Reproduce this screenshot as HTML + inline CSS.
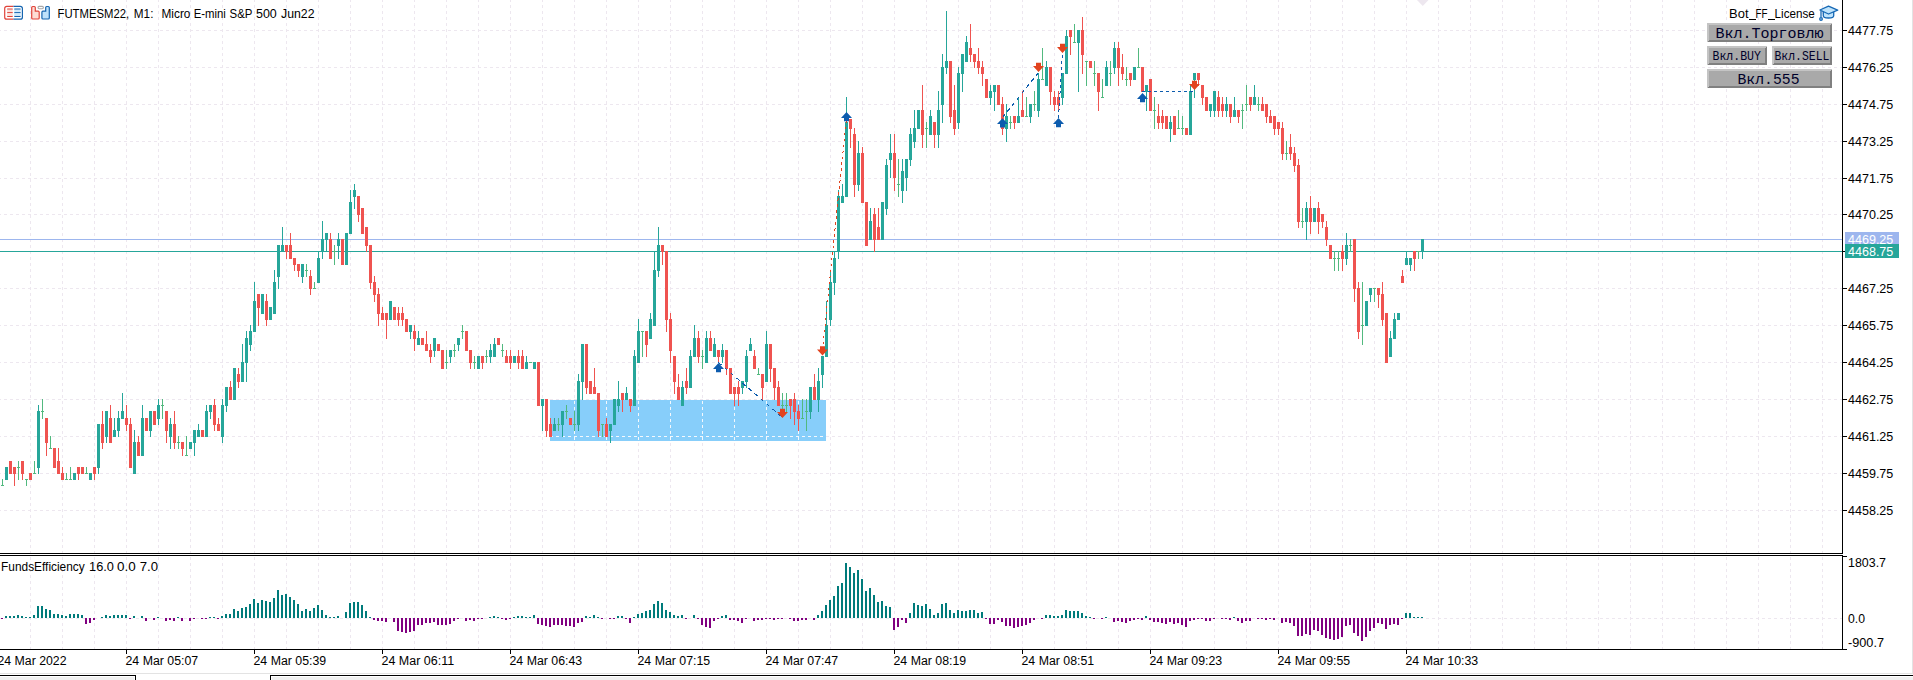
<!DOCTYPE html><html><head><meta charset="utf-8"><title>chart</title><style>html,body{margin:0;padding:0;background:#fff;overflow:hidden}svg{display:block}text{font-family:"Liberation Sans",sans-serif;font-size:12.5px;fill:#000}.m{font-family:"Liberation Mono",monospace;fill:#00002a}</style></head><body>
<svg width="1913" height="680" viewBox="0 0 1913 680">
<rect width="1913" height="680" fill="#fff"/>
<g shape-rendering="crispEdges">
<path d="M30.5 -1V553M30.5 557V649M62.5 -1V553M62.5 557V649M94.5 -1V553M94.5 557V649M126.5 -1V553M126.5 557V649M158.5 -1V553M158.5 557V649M190.5 -1V553M190.5 557V649M222.5 -1V553M222.5 557V649M254.5 -1V553M254.5 557V649M286.5 -1V553M286.5 557V649M318.5 -1V553M318.5 557V649M350.5 -1V553M350.5 557V649M382.5 -1V553M382.5 557V649M414.5 -1V553M414.5 557V649M446.5 -1V553M446.5 557V649M478.5 -1V553M478.5 557V649M510.5 -1V553M510.5 557V649M542.5 -1V553M542.5 557V649M574.5 -1V553M574.5 557V649M606.5 -1V553M606.5 557V649M638.5 -1V553M638.5 557V649M670.5 -1V553M670.5 557V649M702.5 -1V553M702.5 557V649M734.5 -1V553M734.5 557V649M766.5 -1V553M766.5 557V649M798.5 -1V553M798.5 557V649M830.5 -1V553M830.5 557V649M862.5 -1V553M862.5 557V649M894.5 -1V553M894.5 557V649M926.5 -1V553M926.5 557V649M958.5 -1V553M958.5 557V649M990.5 -1V553M990.5 557V649M1022.5 -1V553M1022.5 557V649M1054.5 -1V553M1054.5 557V649M1086.5 -1V553M1086.5 557V649M1118.5 -1V553M1118.5 557V649M1150.5 -1V553M1150.5 557V649M1182.5 -1V553M1182.5 557V649M1214.5 -1V553M1214.5 557V649M1246.5 -1V553M1246.5 557V649M1278.5 -1V553M1278.5 557V649M1310.5 -1V553M1310.5 557V649M1342.5 -1V553M1342.5 557V649M1374.5 -1V553M1374.5 557V649M1406.5 -1V553M1406.5 557V649M1438.5 -1V553M1438.5 557V649M1470.5 -1V553M1470.5 557V649M1502.5 -1V553M1502.5 557V649M1534.5 -1V553M1534.5 557V649M1566.5 -1V553M1566.5 557V649M1598.5 -1V553M1598.5 557V649M1630.5 -1V553M1630.5 557V649M1662.5 -1V553M1662.5 557V649M1694.5 -1V553M1694.5 557V649M1726.5 -1V553M1726.5 557V649M1758.5 -1V553M1758.5 557V649M1790.5 -1V553M1790.5 557V649M1822.5 -1V553M1822.5 557V649M-2 30.5H1842M-2 67.5H1842M-2 104.5H1842M-2 141.5H1842M-2 178.5H1842M-2 214.5H1842M-2 251.5H1842M-2 288.5H1842M-2 325.5H1842M-2 362.5H1842M-2 399.5H1842M-2 436.5H1842M-2 473.5H1842M-2 510.5H1842M-2 618.5H1842" stroke="#ede7ef" stroke-width="1" stroke-dasharray="3 3" fill="none"/>
<path d="M1417 0h11.5l-5.75 6z" fill="#ede7ef" shape-rendering="auto"/>
<rect x="550" y="400" width="276" height="41" fill="#87cefa"/>
<path d="M574.5 401V441M606.5 401V441M638.5 401V441M670.5 401V441M702.5 401V441M734.5 401V441M766.5 401V441M798.5 401V441M550 436.5H826" stroke="#f3f8fd" stroke-width="1" stroke-dasharray="3 3" fill="none"/>
<rect x="0" y="239" width="1842" height="1" fill="#9db6ee"/>
<rect x="0" y="251" width="1842" height="1" fill="#26a69a"/>
<path d="M6 467h1V480h-1zM5 467h3V480h-3zM38 405h1V474h-1zM37 411h3V468h-3zM74 473h1V480h-1zM73 473h3V480h-3zM90 473h1V480h-1zM89 473h3V480h-3zM98 424h1V474h-1zM97 424h3V468h-3zM106 411h1V443h-1zM105 411h3V437h-3zM114 418h1V437h-1zM113 430h3V437h-3zM118 411h1V437h-1zM117 418h3V431h-3zM122 393h1V419h-1zM121 411h3V419h-3zM134 430h1V474h-1zM133 442h3V474h-3zM142 405h1V456h-1zM141 418h3V456h-3zM150 411h1V437h-1zM149 411h3V431h-3zM158 399h1V425h-1zM157 405h3V419h-3zM170 418h1V449h-1zM169 424h3V437h-3zM190 442h1V449h-1zM189 442h3V449h-3zM194 430h1V456h-1zM193 430h3V443h-3zM198 424h1V437h-1zM197 430h3V437h-3zM206 405h1V437h-1zM205 411h3V437h-3zM210 405h1V419h-1zM209 405h3V412h-3zM222 399h1V443h-1zM221 405h3V437h-3zM226 387h1V412h-1zM225 387h3V406h-3zM234 368h1V400h-1zM233 368h3V400h-3zM242 344h1V382h-1zM241 362h3V382h-3zM246 331h1V382h-1zM245 338h3V363h-3zM250 325h1V351h-1zM249 331h3V345h-3zM254 282h1V332h-1zM253 301h3V332h-3zM262 294h1V314h-1zM261 294h3V314h-3zM270 307h1V320h-1zM269 307h3V320h-3zM274 270h1V314h-1zM273 282h3V314h-3zM278 245h1V289h-1zM277 245h3V277h-3zM282 227h1V252h-1zM281 245h3V252h-3zM302 264h1V283h-1zM301 264h3V277h-3zM318 251h1V283h-1zM317 258h3V283h-3zM322 221h1V259h-1zM321 239h3V252h-3zM326 233h1V252h-1zM325 233h3V240h-3zM338 233h1V259h-1zM337 239h3V246h-3zM346 233h1V265h-1zM345 233h3V265h-3zM350 190h1V234h-1zM349 202h3V234h-3zM354 184h1V209h-1zM353 190h3V197h-3zM390 301h1V320h-1zM389 301h3V320h-3zM410 325h1V339h-1zM409 325h3V332h-3zM418 331h1V345h-1zM417 338h3V345h-3zM434 338h1V357h-1zM433 338h3V351h-3zM450 350h1V363h-1zM449 350h3V357h-3zM458 338h1V351h-1zM457 338h3V345h-3zM478 356h1V369h-1zM477 356h3V369h-3zM490 344h1V363h-1zM489 350h3V357h-3zM494 338h1V357h-1zM493 344h3V357h-3zM514 356h1V363h-1zM513 356h3V363h-3zM526 356h1V369h-1zM525 362h3V369h-3zM534 362h1V369h-1zM533 362h3V369h-3zM542 399h1V431h-1zM541 399h3V406h-3zM554 418h1V431h-1zM553 424h3V431h-3zM562 411h1V437h-1zM561 411h3V425h-3zM578 374h1V431h-1zM577 381h3V425h-3zM582 344h1V400h-1zM581 344h3V382h-3zM610 424h1V443h-1zM609 424h3V431h-3zM614 399h1V425h-1zM613 399h3V425h-3zM618 381h1V412h-1zM617 399h3V406h-3zM626 387h1V400h-1zM625 393h3V400h-3zM634 350h1V406h-1zM633 356h3V406h-3zM638 319h1V363h-1zM637 331h3V363h-3zM650 313h1V339h-1zM649 319h3V339h-3zM654 251h1V326h-1zM653 270h3V326h-3zM658 227h1V277h-1zM657 245h3V271h-3zM682 381h1V406h-1zM681 387h3V406h-3zM690 350h1V388h-1zM689 356h3V388h-3zM694 325h1V357h-1zM693 338h3V357h-3zM706 331h1V363h-1zM705 338h3V363h-3zM714 338h1V357h-1zM713 344h3V357h-3zM722 344h1V363h-1zM721 350h3V357h-3zM742 381h1V394h-1zM741 381h3V388h-3zM746 350h1V388h-1zM745 356h3V382h-3zM750 338h1V351h-1zM749 344h3V351h-3zM766 331h1V382h-1zM765 344h3V382h-3zM810 387h1V419h-1zM809 387h3V412h-3zM818 368h1V412h-1zM817 381h3V400h-3zM822 356h1V388h-1zM821 356h3V375h-3zM826 301h1V357h-1zM825 325h3V357h-3zM830 270h1V326h-1zM829 282h3V320h-3zM834 251h1V295h-1zM833 258h3V283h-3zM838 190h1V259h-1zM837 196h3V252h-3zM842 184h1V203h-1zM841 196h3V203h-3zM846 97h1V197h-1zM845 122h3V197h-3zM858 141h1V191h-1zM857 153h3V185h-3zM870 208h1V240h-1zM869 221h3V240h-3zM882 202h1V240h-1zM881 202h3V240h-3zM886 159h1V215h-1zM885 165h3V209h-3zM890 134h1V178h-1zM889 153h3V160h-3zM902 159h1V203h-1zM901 171h3V191h-3zM906 159h1V191h-1zM905 159h3V178h-3zM910 128h1V166h-1zM909 134h3V160h-3zM914 110h1V148h-1zM913 128h3V142h-3zM918 110h1V129h-1zM917 110h3V129h-3zM930 110h1V135h-1zM929 116h3V135h-3zM938 91h1V148h-1zM937 110h3V135h-3zM942 54h1V123h-1zM941 67h3V105h-3zM946 11h1V74h-1zM945 61h3V68h-3zM958 67h1V129h-1zM957 73h3V123h-3zM962 54h1V92h-1zM961 54h3V74h-3zM966 36h1V62h-1zM965 42h3V62h-3zM990 85h1V105h-1zM989 91h3V98h-3zM994 85h1V111h-1zM993 85h3V92h-3zM1006 104h1V142h-1zM1005 116h3V129h-3zM1018 97h1V123h-1zM1017 116h3V123h-3zM1030 104h1V123h-1zM1029 104h3V117h-3zM1038 73h1V117h-1zM1037 79h3V111h-3zM1046 61h1V86h-1zM1045 67h3V86h-3zM1062 73h1V105h-1zM1061 73h3V98h-3zM1066 30h1V74h-1zM1065 36h3V74h-3zM1078 30h1V92h-1zM1077 30h3V43h-3zM1106 61h1V86h-1zM1105 67h3V86h-3zM1114 42h1V74h-1zM1113 48h3V68h-3zM1134 67h1V80h-1zM1133 67h3V80h-3zM1146 85h1V111h-1zM1145 85h3V92h-3zM1170 116h1V142h-1zM1169 122h3V129h-3zM1190 85h1V135h-1zM1189 91h3V135h-3zM1194 73h1V98h-1zM1193 73h3V80h-3zM1210 104h1V117h-1zM1209 104h3V111h-3zM1214 91h1V117h-1zM1213 91h3V111h-3zM1226 97h1V117h-1zM1225 104h3V111h-3zM1234 97h1V117h-1zM1233 110h3V117h-3zM1254 85h1V105h-1zM1253 97h3V105h-3zM1306 202h1V240h-1zM1305 208h3V222h-3zM1314 208h1V222h-1zM1313 208h3V222h-3zM1346 233h1V265h-1zM1345 245h3V259h-3zM1366 301h1V326h-1zM1365 301h3V326h-3zM1370 288h1V302h-1zM1369 288h3V295h-3zM1390 331h1V357h-1zM1389 338h3V357h-3zM1394 313h1V339h-1zM1393 319h3V339h-3zM1398 313h1V320h-1zM1397 313h3V320h-3zM1406 251h1V265h-1zM1405 258h3V265h-3zM1410 258h1V271h-1zM1409 258h3V265h-3zM1422 239h1V259h-1zM1421 239h3V252h-3z" fill="#26a69a"/>
<path d="M10 461h1V474h-1zM9 461h3V474h-3zM14 467h1V486h-1zM13 467h3V474h-3zM22 461h1V480h-1zM21 461h3V474h-3zM30 473h1V480h-1zM29 473h3V480h-3zM46 418h1V456h-1zM45 418h3V443h-3zM54 448h1V468h-1zM53 448h3V468h-3zM58 448h1V474h-1zM57 461h3V474h-3zM62 467h1V480h-1zM61 473h3V480h-3zM78 467h1V480h-1zM77 467h3V474h-3zM82 467h1V474h-1zM81 467h3V474h-3zM94 467h1V480h-1zM93 467h3V474h-3zM102 411h1V449h-1zM101 424h3V443h-3zM110 405h1V443h-1zM109 418h3V443h-3zM126 405h1V431h-1zM125 418h3V425h-3zM130 418h1V468h-1zM129 424h3V468h-3zM138 436h1V456h-1zM137 442h3V456h-3zM146 418h1V431h-1zM145 418h3V431h-3zM154 411h1V425h-1zM153 411h3V425h-3zM166 411h1V443h-1zM165 411h3V431h-3zM174 411h1V449h-1zM173 424h3V443h-3zM182 442h1V456h-1zM181 442h3V449h-3zM202 430h1V437h-1zM201 430h3V437h-3zM214 399h1V431h-1zM213 405h3V425h-3zM218 418h1V431h-1zM217 424h3V431h-3zM230 381h1V400h-1zM229 387h3V400h-3zM238 368h1V388h-1zM237 374h3V382h-3zM258 294h1V326h-1zM257 294h3V308h-3zM266 294h1V326h-1zM265 301h3V320h-3zM286 245h1V259h-1zM285 245h3V252h-3zM290 233h1V259h-1zM289 245h3V259h-3zM294 258h1V271h-1zM293 258h3V265h-3zM298 264h1V277h-1zM297 264h3V271h-3zM310 270h1V295h-1zM309 276h3V289h-3zM330 233h1V259h-1zM329 239h3V259h-3zM342 239h1V265h-1zM341 239h3V265h-3zM358 196h1V222h-1zM357 196h3V215h-3zM362 208h1V234h-1zM361 208h3V234h-3zM366 227h1V252h-1zM365 227h3V246h-3zM370 245h1V289h-1zM369 245h3V283h-3zM374 276h1V302h-1zM373 282h3V295h-3zM378 288h1V326h-1zM377 294h3V314h-3zM382 307h1V320h-1zM381 313h3V320h-3zM386 313h1V339h-1zM385 313h3V320h-3zM394 307h1V320h-1zM393 307h3V320h-3zM398 307h1V326h-1zM397 313h3V320h-3zM402 307h1V326h-1zM401 313h3V320h-3zM406 319h1V332h-1zM405 319h3V332h-3zM414 325h1V351h-1zM413 331h3V339h-3zM422 338h1V345h-1zM421 338h3V345h-3zM426 331h1V351h-1zM425 344h3V351h-3zM430 344h1V363h-1zM429 350h3V357h-3zM438 344h1V351h-1zM437 344h3V351h-3zM442 350h1V369h-1zM441 350h3V369h-3zM466 331h1V351h-1zM465 331h3V351h-3zM470 350h1V369h-1zM469 350h3V363h-3zM482 356h1V369h-1zM481 356h3V363h-3zM498 338h1V345h-1zM497 338h3V345h-3zM506 350h1V363h-1zM505 356h3V363h-3zM510 350h1V369h-1zM509 356h3V363h-3zM518 350h1V369h-1zM517 356h3V363h-3zM522 350h1V369h-1zM521 356h3V369h-3zM538 362h1V406h-1zM537 362h3V406h-3zM546 399h1V437h-1zM545 399h3V431h-3zM550 418h1V437h-1zM549 424h3V437h-3zM570 418h1V425h-1zM569 418h3V425h-3zM586 344h1V394h-1zM585 344h3V388h-3zM590 381h1V394h-1zM589 381h3V394h-3zM594 368h1V394h-1zM593 387h3V394h-3zM598 393h1V437h-1zM597 393h3V431h-3zM606 418h1V437h-1zM605 424h3V437h-3zM622 393h1V412h-1zM621 393h3V400h-3zM630 399h1V412h-1zM629 399h3V406h-3zM646 331h1V357h-1zM645 331h3V345h-3zM662 245h1V265h-1zM661 245h3V252h-3zM666 251h1V332h-1zM665 251h3V320h-3zM670 313h1V363h-1zM669 319h3V351h-3zM674 356h1V394h-1zM673 356h3V382h-3zM678 374h1V400h-1zM677 387h3V400h-3zM686 368h1V394h-1zM685 381h3V388h-3zM698 331h1V363h-1zM697 338h3V357h-3zM710 331h1V351h-1zM709 338h3V351h-3zM718 350h1V363h-1zM717 350h3V357h-3zM726 350h1V375h-1zM725 350h3V369h-3zM730 368h1V394h-1zM729 368h3V394h-3zM734 387h1V406h-1zM733 387h3V394h-3zM738 381h1V406h-1zM737 387h3V394h-3zM754 350h1V369h-1zM753 356h3V369h-3zM762 374h1V400h-1zM761 374h3V388h-3zM770 344h1V382h-1zM769 344h3V369h-3zM774 368h1V400h-1zM773 368h3V388h-3zM778 381h1V406h-1zM777 387h3V406h-3zM790 399h1V419h-1zM789 399h3V406h-3zM794 393h1V425h-1zM793 399h3V412h-3zM798 405h1V431h-1zM797 411h3V419h-3zM814 374h1V400h-1zM813 387h3V400h-3zM850 119h1V148h-1zM849 119h3V129h-3zM854 128h1V197h-1zM853 134h3V185h-3zM862 147h1V203h-1zM861 153h3V203h-3zM866 202h1V246h-1zM865 202h3V246h-3zM874 208h1V252h-1zM873 214h3V240h-3zM878 208h1V240h-1zM877 227h3V240h-3zM894 134h1V191h-1zM893 153h3V178h-3zM922 85h1V148h-1zM921 110h3V135h-3zM934 122h1V148h-1zM933 122h3V135h-3zM950 61h1V123h-1zM949 61h3V117h-3zM954 85h1V135h-1zM953 110h3V129h-3zM970 24h1V62h-1zM969 48h3V55h-3zM974 54h1V68h-1zM973 54h3V62h-3zM978 48h1V74h-1zM977 61h3V68h-3zM982 61h1V86h-1zM981 67h3V74h-3zM986 79h1V98h-1zM985 79h3V98h-3zM998 85h1V105h-1zM997 85h3V105h-3zM1002 97h1V135h-1zM1001 104h3V129h-3zM1014 116h1V129h-1zM1013 116h3V123h-3zM1022 91h1V117h-1zM1021 110h3V117h-3zM1050 67h1V105h-1zM1049 67h3V92h-3zM1054 91h1V111h-1zM1053 97h3V105h-3zM1058 91h1V111h-1zM1057 97h3V105h-3zM1070 30h1V55h-1zM1069 30h3V37h-3zM1082 17h1V74h-1zM1081 30h3V55h-3zM1090 61h1V68h-1zM1089 61h3V68h-3zM1098 73h1V111h-1zM1097 73h3V92h-3zM1118 42h1V86h-1zM1117 48h3V68h-3zM1122 54h1V80h-1zM1121 67h3V74h-3zM1130 73h1V86h-1zM1129 73h3V80h-3zM1142 67h1V92h-1zM1141 67h3V92h-3zM1150 79h1V111h-1zM1149 79h3V111h-3zM1158 104h1V129h-1zM1157 116h3V123h-3zM1162 110h1V129h-1zM1161 116h3V123h-3zM1166 116h1V129h-1zM1165 116h3V129h-3zM1174 116h1V135h-1zM1173 116h3V135h-3zM1186 128h1V135h-1zM1185 128h3V135h-3zM1198 73h1V86h-1zM1197 73h3V80h-3zM1202 85h1V105h-1zM1201 85h3V98h-3zM1206 97h1V111h-1zM1205 97h3V111h-3zM1218 91h1V117h-1zM1217 97h3V111h-3zM1222 97h1V117h-1zM1221 104h3V111h-3zM1230 104h1V123h-1zM1229 104h3V117h-3zM1238 110h1V123h-1zM1237 110h3V117h-3zM1250 97h1V111h-1zM1249 97h3V105h-3zM1262 97h1V111h-1zM1261 104h3V111h-3zM1266 104h1V123h-1zM1265 104h3V117h-3zM1270 110h1V123h-1zM1269 116h3V123h-3zM1274 116h1V135h-1zM1273 116h3V129h-3zM1278 122h1V135h-1zM1277 122h3V129h-3zM1282 122h1V160h-1zM1281 128h3V154h-3zM1290 134h1V160h-1zM1289 147h3V154h-3zM1294 147h1V172h-1zM1293 153h3V166h-3zM1298 159h1V228h-1zM1297 165h3V222h-3zM1310 196h1V234h-1zM1309 208h3V222h-3zM1318 202h1V234h-1zM1317 208h3V222h-3zM1322 214h1V228h-1zM1321 214h3V222h-3zM1326 221h1V246h-1zM1325 227h3V240h-3zM1330 245h1V259h-1zM1329 245h3V259h-3zM1342 245h1V271h-1zM1341 251h3V259h-3zM1354 239h1V302h-1zM1353 239h3V289h-3zM1358 282h1V339h-1zM1357 288h3V332h-3zM1378 288h1V308h-1zM1377 288h3V295h-3zM1382 282h1V326h-1zM1381 294h3V320h-3zM1386 313h1V363h-1zM1385 313h3V363h-3zM1402 270h1V283h-1zM1401 276h3V283h-3zM1414 251h1V271h-1zM1413 251h3V259h-3z" fill="#ef5350"/>
<path d="M2 479h1V486h-1zM1 485h3v1h-3zM18 461h1V480h-1zM17 467h3v1h-3zM26 479h1V486h-1zM25 479h3v1h-3zM34 461h1V474h-1zM33 473h3v1h-3zM42 399h1V419h-1zM41 411h3v1h-3zM50 436h1V449h-1zM49 448h3v1h-3zM66 473h1V480h-1zM65 479h3v1h-3zM70 467h1V480h-1zM69 479h3v1h-3zM86 467h1V474h-1zM85 473h3v1h-3zM162 399h1V419h-1zM161 405h3v1h-3zM178 436h1V449h-1zM177 442h3v1h-3zM186 436h1V456h-1zM185 455h3v1h-3zM306 264h1V277h-1zM305 270h3v1h-3zM314 282h1V289h-1zM313 288h3v1h-3zM334 245h1V265h-1zM333 251h3v1h-3zM446 350h1V369h-1zM445 362h3v1h-3zM454 344h1V357h-1zM453 350h3v1h-3zM462 325h1V339h-1zM461 331h3v1h-3zM474 356h1V369h-1zM473 362h3v1h-3zM486 350h1V363h-1zM485 356h3v1h-3zM502 344h1V357h-1zM501 350h3v1h-3zM530 362h1V363h-1zM529 362h3v1h-3zM558 418h1V431h-1zM557 424h3v1h-3zM566 405h1V419h-1zM565 411h3v1h-3zM574 411h1V431h-1zM573 424h3v1h-3zM602 424h1V437h-1zM601 424h3v1h-3zM642 331h1V357h-1zM641 331h3v1h-3zM702 350h1V369h-1zM701 356h3v1h-3zM758 368h1V375h-1zM757 374h3v1h-3zM782 393h1V412h-1zM781 405h3v1h-3zM786 393h1V412h-1zM785 405h3v1h-3zM802 399h1V419h-1zM801 418h3v1h-3zM806 399h1V431h-1zM805 411h3v1h-3zM898 159h1V197h-1zM897 184h3v1h-3zM926 122h1V148h-1zM925 128h3v1h-3zM1010 116h1V129h-1zM1009 122h3v1h-3zM1026 97h1V117h-1zM1025 116h3v1h-3zM1034 91h1V111h-1zM1033 104h3v1h-3zM1042 48h1V80h-1zM1041 79h3v1h-3zM1074 24h1V43h-1zM1073 42h3v1h-3zM1086 61h1V86h-1zM1085 61h3v1h-3zM1094 61h1V86h-1zM1093 73h3v1h-3zM1102 79h1V98h-1zM1101 97h3v1h-3zM1110 61h1V86h-1zM1109 73h3v1h-3zM1126 67h1V86h-1zM1125 79h3v1h-3zM1138 48h1V68h-1zM1137 67h3v1h-3zM1154 97h1V129h-1zM1153 110h3v1h-3zM1178 110h1V129h-1zM1177 128h3v1h-3zM1182 116h1V135h-1zM1181 128h3v1h-3zM1242 104h1V129h-1zM1241 110h3v1h-3zM1246 85h1V111h-1zM1245 104h3v1h-3zM1258 97h1V111h-1zM1257 104h3v1h-3zM1286 141h1V160h-1zM1285 153h3v1h-3zM1302 208h1V228h-1zM1301 221h3v1h-3zM1334 251h1V271h-1zM1333 258h3v1h-3zM1338 251h1V271h-1zM1337 258h3v1h-3zM1350 239h1V252h-1zM1349 245h3v1h-3zM1362 282h1V345h-1zM1361 325h3v1h-3zM1374 288h1V302h-1zM1373 288h3v1h-3zM1418 251h1V259h-1zM1417 251h3v1h-3z" fill="#52b97f"/>
<path d="M5 616h2v2h-2zM9 616h2v2h-2zM13 616h2v2h-2zM17 615h2v3h-2zM21 616h2v2h-2zM25 617h2v1h-2zM29 617h2v1h-2zM33 615h2v3h-2zM37 606h2v12h-2zM41 606h2v12h-2zM45 609h2v9h-2zM49 610h2v8h-2zM53 614h2v4h-2zM57 614h2v4h-2zM61 615h2v3h-2zM65 616h2v2h-2zM69 614h2v4h-2zM73 614h2v4h-2zM77 614h2v4h-2zM81 615h2v3h-2zM101 617h2v1h-2zM105 615h2v3h-2zM109 616h2v2h-2zM113 615h2v3h-2zM117 615h2v3h-2zM121 615h2v3h-2zM125 615h2v3h-2zM133 616h2v2h-2zM141 616h2v2h-2zM157 617h2v1h-2zM177 617h2v1h-2zM209 617h2v1h-2zM213 617h2v1h-2zM221 616h2v2h-2zM225 614h2v4h-2zM229 614h2v4h-2zM233 609h2v9h-2zM237 611h2v7h-2zM241 608h2v10h-2zM245 607h2v11h-2zM249 604h2v14h-2zM253 599h2v19h-2zM257 603h2v15h-2zM261 600h2v18h-2zM265 601h2v17h-2zM269 602h2v16h-2zM273 598h2v20h-2zM277 590h2v28h-2zM281 595h2v23h-2zM285 594h2v24h-2zM289 597h2v21h-2zM293 600h2v18h-2zM297 604h2v14h-2zM301 611h2v7h-2zM305 609h2v9h-2zM309 611h2v7h-2zM313 608h2v10h-2zM317 605h2v13h-2zM321 610h2v8h-2zM325 615h2v3h-2zM329 617h2v1h-2zM333 617h2v1h-2zM337 616h2v2h-2zM345 612h2v6h-2zM349 603h2v15h-2zM353 602h2v16h-2zM357 602h2v16h-2zM361 605h2v13h-2zM365 611h2v7h-2zM369 617h2v1h-2zM489 617h2v1h-2zM493 616h2v2h-2zM497 617h2v1h-2zM513 617h2v1h-2zM517 616h2v2h-2zM521 616h2v2h-2zM525 617h2v1h-2zM529 617h2v1h-2zM533 615h2v3h-2zM585 616h2v2h-2zM589 617h2v1h-2zM593 615h2v3h-2zM597 617h2v1h-2zM617 616h2v2h-2zM621 616h2v2h-2zM633 617h2v1h-2zM637 614h2v4h-2zM641 613h2v5h-2zM645 611h2v7h-2zM649 610h2v8h-2zM653 604h2v14h-2zM657 601h2v17h-2zM661 603h2v15h-2zM665 610h2v8h-2zM669 612h2v6h-2zM673 615h2v3h-2zM677 616h2v2h-2zM681 615h2v3h-2zM693 615h2v3h-2zM721 616h2v2h-2zM725 615h2v3h-2zM817 615h2v3h-2zM821 611h2v7h-2zM825 605h2v13h-2zM829 600h2v18h-2zM833 596h2v22h-2zM837 586h2v32h-2zM841 583h2v35h-2zM845 563h2v55h-2zM849 567h2v51h-2zM853 573h2v45h-2zM857 570h2v48h-2zM861 579h2v39h-2zM865 591h2v27h-2zM869 588h2v30h-2zM873 595h2v23h-2zM877 602h2v16h-2zM881 601h2v17h-2zM885 606h2v12h-2zM889 607h2v11h-2zM909 613h2v5h-2zM913 603h2v15h-2zM917 605h2v13h-2zM921 606h2v12h-2zM925 604h2v14h-2zM929 609h2v9h-2zM933 615h2v3h-2zM937 613h2v5h-2zM941 604h2v14h-2zM945 603h2v15h-2zM949 610h2v8h-2zM953 613h2v5h-2zM957 610h2v8h-2zM961 611h2v7h-2zM965 611h2v7h-2zM969 610h2v8h-2zM973 610h2v8h-2zM977 613h2v5h-2zM981 612h2v6h-2zM1045 615h2v3h-2zM1049 615h2v3h-2zM1053 616h2v2h-2zM1057 616h2v2h-2zM1061 615h2v3h-2zM1065 610h2v8h-2zM1069 611h2v7h-2zM1073 611h2v7h-2zM1077 611h2v7h-2zM1081 613h2v5h-2zM1085 616h2v2h-2zM1089 617h2v1h-2zM1105 617h2v1h-2zM1145 616h2v2h-2zM1233 617h2v1h-2zM1405 613h2v5h-2zM1409 613h2v5h-2zM1413 617h2v1h-2zM1417 617h2v1h-2zM1421 617h2v1h-2z" fill="#007b7b"/>
<path d="M1 618h2v1h-2zM85 618h2v6h-2zM89 618h2v5h-2zM93 618h2v2h-2zM129 618h2v1h-2zM145 618h2v3h-2zM153 618h2v2h-2zM165 618h2v3h-2zM169 618h2v2h-2zM173 618h2v3h-2zM181 618h2v3h-2zM189 618h2v3h-2zM193 618h2v1h-2zM201 618h2v1h-2zM205 618h2v1h-2zM217 618h2v1h-2zM373 618h2v2h-2zM377 618h2v3h-2zM381 618h2v3h-2zM385 618h2v4h-2zM393 618h2v4h-2zM397 618h2v13h-2zM401 618h2v14h-2zM405 618h2v15h-2zM409 618h2v14h-2zM413 618h2v13h-2zM417 618h2v7h-2zM421 618h2v7h-2zM425 618h2v5h-2zM429 618h2v5h-2zM433 618h2v4h-2zM437 618h2v7h-2zM441 618h2v7h-2zM445 618h2v7h-2zM449 618h2v6h-2zM453 618h2v3h-2zM457 618h2v1h-2zM465 618h2v3h-2zM469 618h2v2h-2zM473 618h2v3h-2zM477 618h2v1h-2zM481 618h2v1h-2zM501 618h2v1h-2zM505 618h2v2h-2zM509 618h2v1h-2zM537 618h2v6h-2zM541 618h2v7h-2zM545 618h2v8h-2zM549 618h2v9h-2zM553 618h2v7h-2zM557 618h2v7h-2zM561 618h2v7h-2zM565 618h2v8h-2zM569 618h2v8h-2zM573 618h2v9h-2zM577 618h2v5h-2zM581 618h2v4h-2zM601 618h2v1h-2zM609 618h2v1h-2zM613 618h2v1h-2zM625 618h2v1h-2zM629 618h2v5h-2zM685 618h2v1h-2zM697 618h2v1h-2zM701 618h2v7h-2zM705 618h2v9h-2zM709 618h2v10h-2zM713 618h2v3h-2zM717 618h2v1h-2zM729 618h2v2h-2zM733 618h2v2h-2zM737 618h2v3h-2zM741 618h2v5h-2zM745 618h2v1h-2zM753 618h2v3h-2zM757 618h2v2h-2zM761 618h2v2h-2zM765 618h2v1h-2zM769 618h2v1h-2zM773 618h2v2h-2zM777 618h2v1h-2zM781 618h2v1h-2zM789 618h2v1h-2zM793 618h2v3h-2zM797 618h2v3h-2zM801 618h2v2h-2zM805 618h2v2h-2zM813 618h2v2h-2zM893 618h2v12h-2zM897 618h2v9h-2zM901 618h2v2h-2zM905 618h2v5h-2zM985 618h2v1h-2zM989 618h2v6h-2zM993 618h2v6h-2zM997 618h2v2h-2zM1001 618h2v4h-2zM1005 618h2v8h-2zM1009 618h2v8h-2zM1013 618h2v10h-2zM1017 618h2v9h-2zM1021 618h2v8h-2zM1025 618h2v7h-2zM1029 618h2v5h-2zM1033 618h2v2h-2zM1041 618h2v1h-2zM1093 618h2v1h-2zM1101 618h2v1h-2zM1113 618h2v4h-2zM1117 618h2v3h-2zM1121 618h2v4h-2zM1125 618h2v5h-2zM1129 618h2v3h-2zM1133 618h2v2h-2zM1137 618h2v1h-2zM1141 618h2v2h-2zM1149 618h2v2h-2zM1153 618h2v4h-2zM1157 618h2v4h-2zM1161 618h2v5h-2zM1165 618h2v6h-2zM1169 618h2v4h-2zM1173 618h2v6h-2zM1177 618h2v5h-2zM1181 618h2v7h-2zM1185 618h2v9h-2zM1189 618h2v3h-2zM1193 618h2v2h-2zM1197 618h2v1h-2zM1201 618h2v1h-2zM1205 618h2v3h-2zM1209 618h2v3h-2zM1213 618h2v1h-2zM1221 618h2v1h-2zM1225 618h2v1h-2zM1229 618h2v2h-2zM1237 618h2v3h-2zM1241 618h2v5h-2zM1245 618h2v3h-2zM1249 618h2v3h-2zM1257 618h2v1h-2zM1261 618h2v1h-2zM1265 618h2v2h-2zM1269 618h2v1h-2zM1273 618h2v2h-2zM1281 618h2v5h-2zM1285 618h2v4h-2zM1289 618h2v5h-2zM1293 618h2v8h-2zM1297 618h2v18h-2zM1301 618h2v18h-2zM1305 618h2v16h-2zM1309 618h2v17h-2zM1313 618h2v12h-2zM1317 618h2v13h-2zM1321 618h2v17h-2zM1325 618h2v20h-2zM1329 618h2v21h-2zM1333 618h2v22h-2zM1337 618h2v21h-2zM1341 618h2v19h-2zM1345 618h2v8h-2zM1349 618h2v7h-2zM1353 618h2v15h-2zM1357 618h2v18h-2zM1361 618h2v23h-2zM1365 618h2v19h-2zM1369 618h2v13h-2zM1373 618h2v10h-2zM1377 618h2v5h-2zM1381 618h2v6h-2zM1385 618h2v11h-2zM1389 618h2v7h-2zM1393 618h2v6h-2zM1397 618h2v7h-2zM1401 618h2v1h-2z" fill="#800080"/>
<path d="M0 553h1843v1h-1843zM0 555h1843v1h-1843zM0 649h1843v1h-1843zM1842 0h1v553h-1zM1842 555h1v95h-1z" fill="#000"/>
<path d="M1843 30h4v1h-4zM1843 67h4v1h-4zM1843 104h4v1h-4zM1843 141h4v1h-4zM1843 178h4v1h-4zM1843 214h4v1h-4zM1843 288h4v1h-4zM1843 325h4v1h-4zM1843 362h4v1h-4zM1843 399h4v1h-4zM1843 436h4v1h-4zM1843 473h4v1h-4zM1843 510h4v1h-4zM1843 251h4v1h-4zM1843 556h4v1h-4zM1843 649h4v1h-4zM126 650h1v4h-1zM254 650h1v4h-1zM382 650h1v4h-1zM510 650h1v4h-1zM638 650h1v4h-1zM766 650h1v4h-1zM894 650h1v4h-1zM1022 650h1v4h-1zM1150 650h1v4h-1zM1278 650h1v4h-1zM1406 650h1v4h-1z" fill="#000"/>
<rect x="1845" y="232" width="54" height="12" fill="#9db6ee"/>
<rect x="1845" y="244" width="54" height="14" fill="#26a69a"/>
<rect x="0" y="673" width="1913" height="1" fill="#e3e3e3"/>
<rect x="1912" y="0" width="1" height="674" fill="#e3e3e3"/>
<rect x="0" y="677" width="134" height="3" fill="#f0f0f0"/><rect x="0" y="675" width="136" height="1" fill="#000"/><rect x="135" y="675" width="1" height="5" fill="#000"/>
<rect x="272" y="677" width="1641" height="3" fill="#f0f0f0"/><rect x="270" y="675" width="1643" height="1" fill="#000"/><rect x="270" y="675" width="1" height="5" fill="#000"/>
<rect x="1707" y="23" width="125" height="19" fill="#808080"/>
<path d="M1707 23h125l-2 2H1709V40l-2 2z" fill="#c4c4c4"/>
<rect x="1709" y="25" width="121" height="15" fill="#a9a9a9"/>
<rect x="1707" y="46" width="60" height="19" fill="#808080"/>
<path d="M1707 46h60l-2 2H1709V63l-2 2z" fill="#c4c4c4"/>
<rect x="1709" y="48" width="56" height="15" fill="#a9a9a9"/>
<rect x="1772" y="46" width="60" height="19" fill="#808080"/>
<path d="M1772 46h60l-2 2H1774V63l-2 2z" fill="#c4c4c4"/>
<rect x="1774" y="48" width="56" height="15" fill="#a9a9a9"/>
<rect x="1707" y="69" width="125" height="19" fill="#808080"/>
<path d="M1707 69h125l-2 2H1709V86l-2 2z" fill="#c4c4c4"/>
<rect x="1709" y="71" width="121" height="15" fill="#a9a9a9"/>
</g>
<g fill="none" stroke-width="1" shape-rendering="crispEdges">
<path d="M718.5 362.5L782.5 417.5" stroke="#0d5cae" stroke-dasharray="3.96 3.96"/>
<path d="M822.5 350L846.5 118" stroke="#e2431e" stroke-dasharray="2.5 3.5"/>
<path d="M1002.5 117.5L1038.5 72.5" stroke="#0d5cae" stroke-dasharray="3.84 3.84"/>
<path d="M1058.5 118L1062.5 53" stroke="#0d5cae" stroke-dasharray="3 3"/>
<path d="M1142 91.5H1194" stroke="#0d5cae" stroke-dasharray="3 3"/>
</g>
<path d="M718.5 363l5.5 5.9h-3v3.4h-5v-3.4h-3z" fill="#0d5cae"/>
<path d="M782.5 418l5.5 -5.9h-3v-3.4h-5v3.4h-3z" fill="#e2431e"/>
<path d="M822.5 355.5l5.5 -5.9h-3v-3.4h-5v3.4h-3z" fill="#e2431e"/>
<path d="M846.5 112l5.5 5.9h-3v3.4h-5v-3.4h-3z" fill="#0d5cae"/>
<path d="M1002.5 118.2l5.5 5.9h-3v3.4h-5v-3.4h-3z" fill="#0d5cae"/>
<path d="M1038.5 72l5.5 -5.9h-3v-3.4h-5v3.4h-3z" fill="#e2431e"/>
<path d="M1058.5 118l5.5 5.9h-3v3.4h-5v-3.4h-3z" fill="#0d5cae"/>
<path d="M1062.5 53l5.5 -5.9h-3v-3.4h-5v3.4h-3z" fill="#e2431e"/>
<path d="M1142.5 93l5.5 5.9h-3v3.4h-5v-3.4h-3z" fill="#0d5cae"/>
<path d="M1194.5 90l5.5 -5.9h-3v-3.4h-5v3.4h-3z" fill="#e2431e"/>
<text x="1848" y="35" textLength="45.3" lengthAdjust="spacingAndGlyphs" xml:space="preserve">4477.75</text>
<text x="1848" y="72" textLength="45.3" lengthAdjust="spacingAndGlyphs" xml:space="preserve">4476.25</text>
<text x="1848" y="109" textLength="45.3" lengthAdjust="spacingAndGlyphs" xml:space="preserve">4474.75</text>
<text x="1848" y="146" textLength="45.3" lengthAdjust="spacingAndGlyphs" xml:space="preserve">4473.25</text>
<text x="1848" y="183" textLength="45.3" lengthAdjust="spacingAndGlyphs" xml:space="preserve">4471.75</text>
<text x="1848" y="219" textLength="45.3" lengthAdjust="spacingAndGlyphs" xml:space="preserve">4470.25</text>
<text x="1848" y="293" textLength="45.3" lengthAdjust="spacingAndGlyphs" xml:space="preserve">4467.25</text>
<text x="1848" y="330" textLength="45.3" lengthAdjust="spacingAndGlyphs" xml:space="preserve">4465.75</text>
<text x="1848" y="367" textLength="45.3" lengthAdjust="spacingAndGlyphs" xml:space="preserve">4464.25</text>
<text x="1848" y="404" textLength="45.3" lengthAdjust="spacingAndGlyphs" xml:space="preserve">4462.75</text>
<text x="1848" y="441" textLength="45.3" lengthAdjust="spacingAndGlyphs" xml:space="preserve">4461.25</text>
<text x="1848" y="478" textLength="45.3" lengthAdjust="spacingAndGlyphs" xml:space="preserve">4459.75</text>
<text x="1848" y="515" textLength="45.3" lengthAdjust="spacingAndGlyphs" xml:space="preserve">4458.25</text>
<text x="1848" y="244" textLength="45.3" lengthAdjust="spacingAndGlyphs" style="fill:#fff" xml:space="preserve">4469.25</text>
<text x="1848" y="256" textLength="45.3" lengthAdjust="spacingAndGlyphs" style="fill:#fff" xml:space="preserve">4468.75</text>
<text x="1848" y="567" textLength="38" lengthAdjust="spacingAndGlyphs" xml:space="preserve">1803.7</text>
<text x="1848" y="623" textLength="17" lengthAdjust="spacingAndGlyphs" xml:space="preserve">0.0</text>
<text x="1848" y="647" textLength="36" lengthAdjust="spacingAndGlyphs" xml:space="preserve">-900.7</text>
<text x="57.5" y="18" textLength="71.6" lengthAdjust="spacingAndGlyphs" xml:space="preserve">FUTMESM22,</text>
<text x="133.8" y="18" textLength="19.6" lengthAdjust="spacingAndGlyphs" xml:space="preserve">M1:</text>
<text x="161.5" y="18" textLength="28.9" lengthAdjust="spacingAndGlyphs" xml:space="preserve">Micro</text>
<text x="193.7" y="18" textLength="32.2" lengthAdjust="spacingAndGlyphs" xml:space="preserve">E-mini</text>
<text x="229.6" y="18" textLength="22.9" lengthAdjust="spacingAndGlyphs" xml:space="preserve">S&amp;P</text>
<text x="256" y="18" textLength="20.8" lengthAdjust="spacingAndGlyphs" xml:space="preserve">500</text>
<text x="281" y="18" textLength="33.5" lengthAdjust="spacingAndGlyphs" xml:space="preserve">Jun22</text>
<text x="1729.1000000000001" y="18" textLength="19.4" lengthAdjust="spacingAndGlyphs" xml:space="preserve">Bot</text>
<text x="1755.6000000000001" y="18" textLength="11.9" lengthAdjust="spacingAndGlyphs" xml:space="preserve">FF</text>
<text x="1774.6000000000001" y="18" textLength="40.2" lengthAdjust="spacingAndGlyphs" xml:space="preserve">License</text>
<path d="M1749 19h7v1h-7zM1768 19h7v1h-7z" fill="#000" shape-rendering="crispEdges"/>
<text x="1.1" y="571" textLength="83.6" lengthAdjust="spacingAndGlyphs" xml:space="preserve">FundsEfficiency</text>
<text x="89.1" y="571" textLength="24.9" lengthAdjust="spacingAndGlyphs" xml:space="preserve">16.0</text>
<text x="117.1" y="571" textLength="18.7" lengthAdjust="spacingAndGlyphs" xml:space="preserve">0.0</text>
<text x="139.70000000000002" y="571" textLength="18.3" lengthAdjust="spacingAndGlyphs" xml:space="preserve">7.0</text>
<text x="-2.5" y="665" textLength="69" lengthAdjust="spacingAndGlyphs" xml:space="preserve">24 Mar 2022</text>
<text x="125.5" y="665" textLength="72.7" lengthAdjust="spacingAndGlyphs" xml:space="preserve">24 Mar 05:07</text>
<text x="253.5" y="665" textLength="72.7" lengthAdjust="spacingAndGlyphs" xml:space="preserve">24 Mar 05:39</text>
<text x="381.5" y="665" textLength="72.7" lengthAdjust="spacingAndGlyphs" xml:space="preserve">24 Mar 06:11</text>
<text x="509.5" y="665" textLength="72.7" lengthAdjust="spacingAndGlyphs" xml:space="preserve">24 Mar 06:43</text>
<text x="637.5" y="665" textLength="72.7" lengthAdjust="spacingAndGlyphs" xml:space="preserve">24 Mar 07:15</text>
<text x="765.5" y="665" textLength="72.7" lengthAdjust="spacingAndGlyphs" xml:space="preserve">24 Mar 07:47</text>
<text x="893.5" y="665" textLength="72.7" lengthAdjust="spacingAndGlyphs" xml:space="preserve">24 Mar 08:19</text>
<text x="1021.5" y="665" textLength="72.7" lengthAdjust="spacingAndGlyphs" xml:space="preserve">24 Mar 08:51</text>
<text x="1149.5" y="665" textLength="72.7" lengthAdjust="spacingAndGlyphs" xml:space="preserve">24 Mar 09:23</text>
<text x="1277.5" y="665" textLength="72.7" lengthAdjust="spacingAndGlyphs" xml:space="preserve">24 Mar 09:55</text>
<text x="1405.5" y="665" textLength="72.7" lengthAdjust="spacingAndGlyphs" xml:space="preserve">24 Mar 10:33</text>
<text x="1715.5" y="37.7" textLength="108" lengthAdjust="spacingAndGlyphs" class="m" style="font-size:15.5px" xml:space="preserve">Вкл.Торговлю</text>
<text x="1712.5" y="59.7" textLength="48.4" lengthAdjust="spacingAndGlyphs" class="m" style="font-size:13px" xml:space="preserve">Вкл.BUY</text>
<text x="1774.5" y="59.7" textLength="55" lengthAdjust="spacingAndGlyphs" class="m" style="font-size:13px" xml:space="preserve">Вкл.SELL</text>
<text x="1737.5" y="83.7" textLength="62" lengthAdjust="spacingAndGlyphs" class="m" style="font-size:15.5px" xml:space="preserve">Вкл.555</text>
<g fill="none" stroke-width="1.2">
<path d="M13.5 6.4H6.7a2 2 0 0 0-2 2v8.800a2 2 0 0 0 2 2h6.800" stroke="#e0433a"/>
<path d="M13.5 6.4H20.400a2 2 0 0 1 2 2v8.800a2 2 0 0 1-2 2h-6.900" stroke="#1565b0"/>
<path d="M7.200 9.100h5.500M7.200 12.700h5.500M7.200 16.400h5.500" stroke="#e0433a"/>
<path d="M14.300 9.100h6.300M14.300 12.700h6.300M14.300 16.400h6.300" stroke="#1565b0"/>
<path d="M32.700 6.500h1.600a1 1 0 0 1 1 1v3.700h2.900a1 1 0 0 1 1 1v5.800a1 1 0 0 1-1 1h-5.500a1 1 0 0 1-1-1v-10.500a1 1 0 0 1 1-1z" stroke="#e0433a" fill="#fddcd4"/>
<path d="M48.300 6.500h-1.600a1 1 0 0 0-1 1v3.700h-2.800a1 1 0 0 0-1 1v5.800a1 1 0 0 0 1 1h5.400a1 1 0 0 0 1-1v-10.500a1 1 0 0 0-1-1z" stroke="#1565b0" fill="#bfe2fb"/>
<rect x="38" y="6.400" width="5.400" height="2.300" rx="1.150" stroke="#a8a8a8" stroke-width="1.100"/>
</g>
<rect x="7.200" y="9.700" width="5.500" height="2.400" fill="#fde0da"/><rect x="7.200" y="13.300" width="5.500" height="2.500" fill="#fde0da"/><rect x="14.300" y="9.700" width="6.300" height="2.400" fill="#cfe8fb"/><rect x="14.300" y="13.300" width="6.300" height="2.500" fill="#cfe8fb"/>
<g stroke="#1668b5" stroke-width="1.3" stroke-linejoin="round" fill="#bfe3fb">
<path d="M1823.300 11.800v4c0 1.200 2.400 2.200 5.200 2.200s5.200-1 5.200-2.200v-4"/>
<path d="M1819.900 10l8.600-3.900 9.200 4.100-9.200 3.800z"/>
<path d="M1821 10.800v6.700" fill="none"/>
<circle cx="1821" cy="19" r="1.300"/>
</g>
</svg></body></html>
